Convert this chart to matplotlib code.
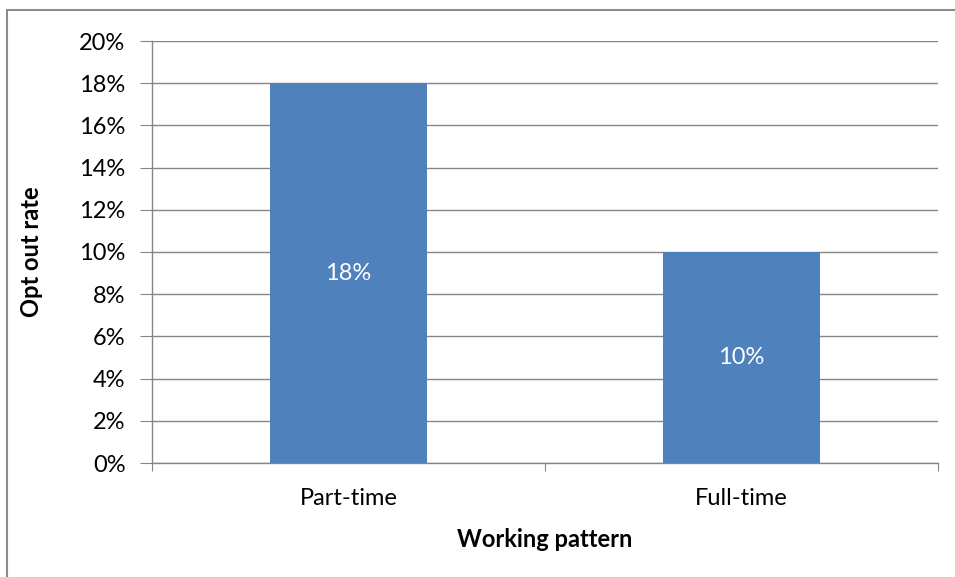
import matplotlib.pyplot as plt
from matplotlib.patches import Rectangle
from matplotlib.ticker import MultipleLocator, PercentFormatter

categories = ['Part-time', 'Full-time']
opt_out = [18, 10]
bar_labels = ['18%', '10%']

plt.rcParams['font.family'] = ['Lato', 'DejaVu Sans']

fig = plt.figure(figsize=(9.55, 5.77), dpi=100)
# outer chart border (only top/left visible in the crop)
fig.patches.append(Rectangle((7 / 955, -0.1), 1.2, (577 - 10) / 577 + 0.1,
                             transform=fig.transFigure, fill=False,
                             edgecolor='#8c8c8c', linewidth=1.5))

ax = fig.add_axes([152 / 955, 114 / 577, 786 / 955, 422 / 577])
x = range(len(categories))
bars = ax.bar(x, opt_out, width=0.402, color='#4f81bd', zorder=3)
ax.bar_label(bars, labels=bar_labels, label_type='center', color='white', fontsize=17)

ax.set_xlim(-0.5, 1.5)
ax.set_ylim(0, 20)
ax.yaxis.set_major_locator(MultipleLocator(2))
ax.yaxis.set_major_formatter(PercentFormatter(decimals=0))
ax.set_xticks([-0.5, 0.5, 1.5])
ax.set_xticklabels([])
ax.set_xticks(list(x), categories, minor=True)
ax.tick_params(axis='x', which='minor', length=0, pad=18, labelsize=17)
ax.tick_params(axis='x', which='major', length=6, color='#868686', direction='out')
ax.tick_params(axis='y', length=9, color='#868686', labelsize=17, pad=10)

ax.grid(axis='y', color='#868686', linewidth=1, zorder=0)
for s in ['top', 'right']:
    ax.spines[s].set_visible(False)
for s in ['left', 'bottom']:
    ax.spines[s].set_color('#868686')
    ax.spines[s].set_linewidth(1)

ax.set_ylabel('Opt out rate', fontsize=17, fontweight='bold', labelpad=26)
ax.set_xlabel('Working pattern', fontsize=17, fontweight='bold', labelpad=14)

fig.savefig('out.png', dpi=100)
